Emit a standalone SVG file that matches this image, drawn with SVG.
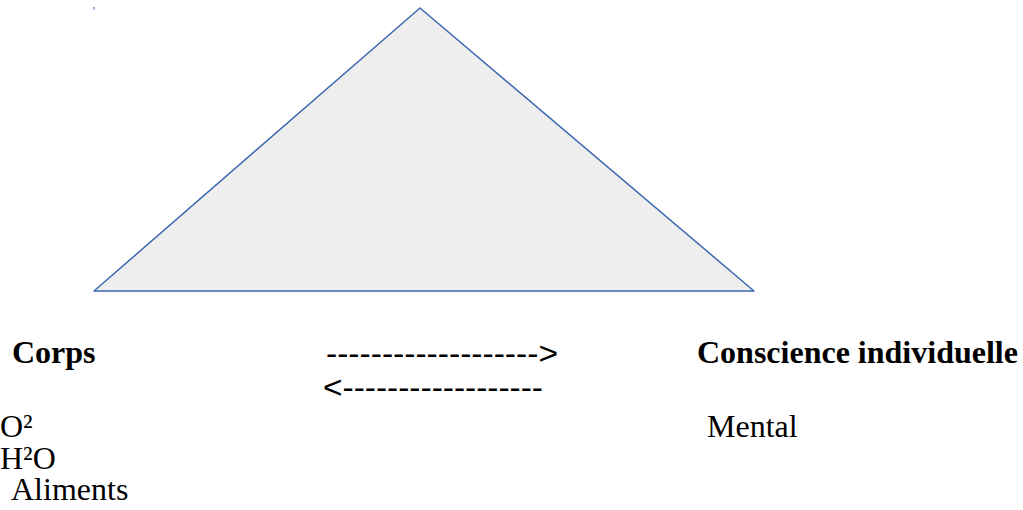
<svg xmlns="http://www.w3.org/2000/svg" width="1023" height="510" viewBox="0 0 1023 510">
<style>
.t{font-family:"Liberation Serif","Times New Roman",serif;font-size:32px;fill:#000}
.b{font-weight:bold}
.a{font-family:"Liberation Sans",Arial,sans-serif;font-size:31px;fill:#000}
</style>
<rect width="1023" height="510" fill="#fff"/>
<g id="dot"><rect x="93.5" y="7" width="1.2" height="2.5" fill="#4472c4"/></g>
<g id="triangle"><polygon points="420,8 94,291 754,291" fill="#eeeeee" stroke="#3c68b0" stroke-width="1.5" stroke-linejoin="round"/></g>
<g id="corps"><text class="t b" x="12" y="363">Corps</text>
<text class="t" x="0" y="437">O²</text>
<text class="t" x="0" y="469">H²O</text>
<text class="t" x="11" y="500">Aliments</text></g>
<g id="conscience"><text class="t b" x="697" y="363">Conscience individuelle</text>
<text class="t" x="707" y="437">Mental</text></g>
<g id="connectors">
<text class="a" x="326" y="364" textLength="232" lengthAdjust="spacingAndGlyphs">-------------------&gt;</text>
<text class="a" x="323" y="398" textLength="220" lengthAdjust="spacingAndGlyphs">&lt;------------------</text>
</g>
</svg>
